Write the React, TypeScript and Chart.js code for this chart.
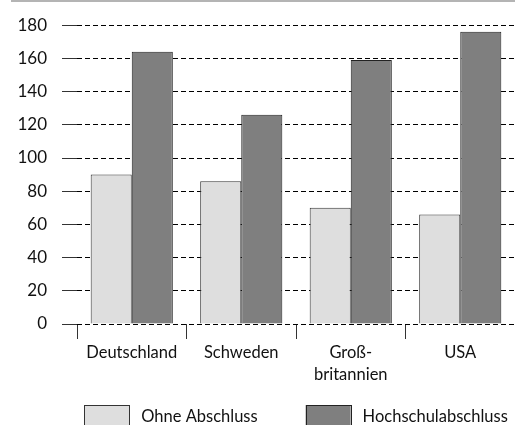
import React, { useEffect, useRef } from "react";
import { Chart, registerables } from "chart.js";

Chart.register(...registerables);

const categories: (string | string[])[] = ["Deutschland", "Schweden", ["Groß-", "britannien"], "USA"];
const seriesLabels = ["Ohne Abschluss", "Hochschulabschluss"];
const ohneAbschluss = [90, 86, 70, 66];
const hochschulabschluss = [164, 126, 159, 176];
const yMin = 0;
const yMax = 180;
const yStep = 20;

const FONT = "Lato, 'Open Sans', sans-serif";
const TEXT = "#111";

const customLegend = {
  id: "customLegend",
  afterDraw(chart: any) {
    const ctx = chart.ctx as CanvasRenderingContext2D;
    const area = chart.chartArea;
    ctx.save();
    // top rule
    ctx.strokeStyle = "#b4b4b4";
    ctx.lineWidth = 2;
    ctx.beginPath();
    ctx.moveTo(11, 1);
    ctx.lineTo(chart.width, 1);
    ctx.stroke();

    // legend
    ctx.font = `16.5px ${FONT}`;
    const boxW = 45;
    const boxH = 24;
    const gapText = 12;
    const gapItem = 48;
    const items = chart.data.datasets.map((ds: any) => ({
      label: ds.label,
      fill: ds.backgroundColor,
      stroke: ds.borderColor,
      w: ctx.measureText(ds.label).width,
    }));
    const total = items.reduce((s: number, it: any) => s + boxW + gapText + it.w, 0) + gapItem * (items.length - 1);
    let x = (area.left + area.right) / 2 - total / 2;
    const boxTop = chart.height - 20;
    const textY = boxTop + 11.5;
    items.forEach((it: any) => {
      ctx.fillStyle = it.fill;
      ctx.fillRect(x, boxTop, boxW, boxH);
      ctx.strokeStyle = it.stroke;
      ctx.lineWidth = 1;
      ctx.strokeRect(Math.round(x) + 0.5, Math.round(boxTop) + 0.5, boxW, boxH);
      ctx.fillStyle = TEXT;
      ctx.textAlign = "left";
      ctx.textBaseline = "middle";
      ctx.fillText(it.label, x + boxW + gapText, textY);
      x += boxW + gapText + it.w + gapItem;
    });
    ctx.restore();
  },
};

export default function App() {
  const ref = useRef<HTMLCanvasElement>(null);
  useEffect(() => {
    if (!ref.current) return;
    const chart = new Chart(ref.current, {
      type: "bar",
      data: {
        labels: categories,
        datasets: [
          {
            label: seriesLabels[0],
            data: ohneAbschluss,
            backgroundColor: "#dedede",
            borderColor: "#333",
            borderWidth: 1,
            categoryPercentage: 0.75,
            barPercentage: 1,
          },
          {
            label: seriesLabels[1],
            data: hochschulabschluss,
            backgroundColor: "#7f7f7f",
            borderColor: "#222",
            borderWidth: 1,
            categoryPercentage: 0.75,
            barPercentage: 1,
          },
        ],
      },
      options: {
        animation: false,
        responsive: false,
        maintainAspectRatio: false,
        layout: { padding: { top: 20, right: 0, bottom: 42, left: 0 } },
        plugins: {
          legend: { display: false },
          tooltip: { enabled: false },
        },
        scales: {
          x: {
            border: { display: false },
            grid: {
              drawOnChartArea: false,
              drawTicks: true,
              tickLength: 15,
              color: "#333",
              offset: true,
            },
            ticks: { font: { family: FONT, size: 16.5, lineHeight: 1.3 }, color: TEXT, padding: 3 },
            afterFit: (scale: any) => {
              scale.height = 59;
            },
          },
          y: {
            min: yMin,
            max: yMax,
            border: { display: false, dash: [5, 3] },
            grid: {
              color: "#000",
              lineWidth: 1,
              tickBorderDash: [],
              tickLength: 15,
              tickColor: "#333",
            },
            ticks: { stepSize: yStep, font: { family: FONT, size: 17 }, color: TEXT, padding: 15 },
            afterFit: (scale: any) => {
              scale.width = 77;
            },
          },
        },
      },
      plugins: [customLegend],
    });
    return () => chart.destroy();
  }, []);
  return (
    <div style={{ position: "absolute", left: 0, top: 0, width: 515, height: 425, overflow: "hidden", background: "#fff" }}>
      <canvas ref={ref} width={515} height={425} style={{ display: "block" }} />
    </div>
  );
}
